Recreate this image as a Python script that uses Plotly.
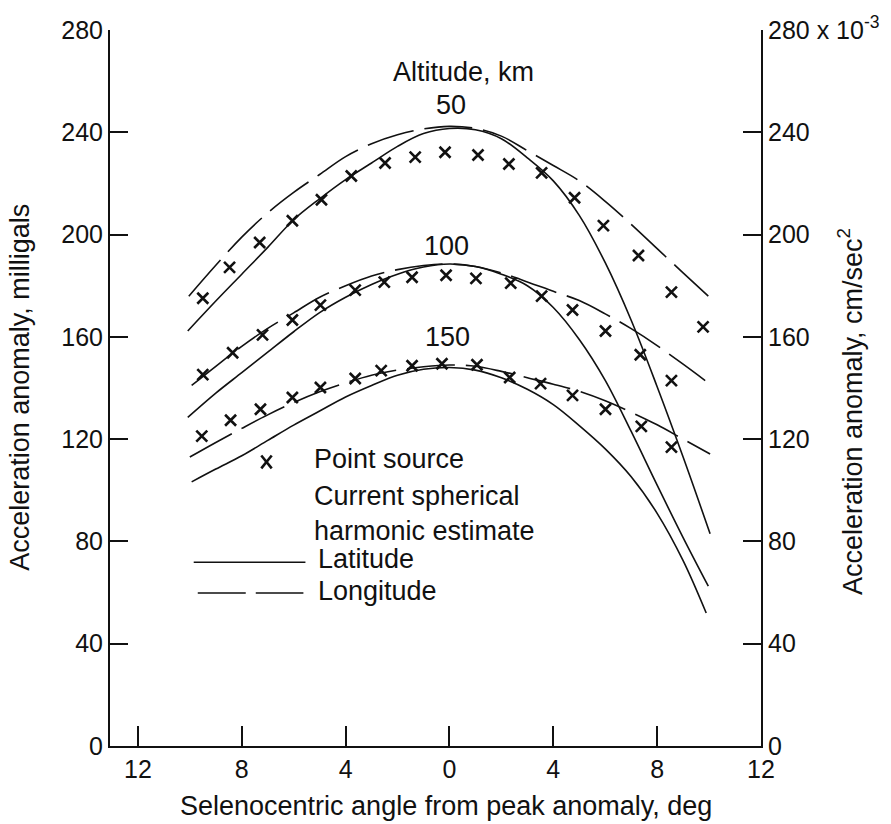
import plotly.graph_objects as go

# ---------------- data ----------------
# Point source, altitude 50 / 100 / 150 km
ps50_x = [-9.50, -8.47, -7.31, -6.05, -4.93, -3.78, -2.48, -1.32, -0.17, 1.10, 2.29, 3.55, 4.82, 5.93, 7.28, 8.55, 9.77]
ps50_y = [175.1, 187.2, 196.9, 205.4, 213.6, 222.9, 228.0, 230.3, 232.2, 231.1, 227.6, 224.1, 214.4, 203.5, 191.8, 177.5, 163.9]
ps100_x = [-9.50, -8.35, -7.20, -6.05, -4.97, -3.63, -2.51, -1.44, -0.13, 1.02, 2.36, 3.55, 4.74, 6.01, 7.35, 8.55]
ps100_y = [145.2, 153.8, 160.8, 166.6, 172.4, 178.3, 181.4, 183.3, 184.1, 182.9, 181.0, 175.9, 170.5, 162.3, 153.0, 142.9]
ps150_x = [-9.54, -8.43, -7.28, -6.05, -4.97, -3.63, -2.63, -1.44, -0.29, 1.06, 2.32, 3.51, 4.74, 6.01, 7.39, 8.55]
ps150_y = [121.2, 127.4, 131.7, 136.3, 140.2, 143.7, 146.8, 148.7, 149.5, 149.1, 144.1, 141.7, 137.1, 131.7, 125.0, 116.9]

# Current spherical harmonic estimate - latitude (solid)
lat50_x = [-10.08, -9, -8, -7, -6, -5, -4, -3, -2, -1, 0, 1, 2, 3, 4, 5, 6, 7, 8, 9, 10.04]
lat50_y = [162.3, 174.0, 184.5, 195.0, 205.8, 214.0, 221.5, 228.0, 234.5, 239.5, 241.5, 241.0, 237.5, 230.0, 221.0, 207.5, 189.0, 166.5, 140.5, 113.0, 83.0]
lat100_x = [-10.08, -9, -8, -7, -6, -5, -4, -3, -2, -1, 0, 1, 2, 3, 4, 5, 6, 7, 8, 9, 9.97]
lat100_y = [128.5, 138.0, 146.0, 154.0, 162.0, 169.5, 175.5, 180.5, 184.5, 187.3, 188.5, 187.5, 184.5, 180.0, 171.5, 159.0, 143.0, 123.0, 102.0, 81.5, 62.5]
lat150_x = [-9.93, -9, -8, -7, -6, -5, -4, -3, -2, -1, 0, 1, 2, 3, 4, 5, 6, 7, 8, 9, 9.89]
lat150_y = [103.3, 108.3, 113.5, 119.5, 125.5, 131.0, 136.5, 141.0, 145.0, 147.3, 148.0, 147.0, 144.0, 139.5, 133.5, 125.3, 116.2, 105.3, 91.0, 72.5, 52.0]

# Current spherical harmonic estimate - longitude (dashed)
lon50_x = [-10.04, -9, -8, -7, -6, -5, -4, -3, -2, -1, 0, 1, 2, 3, 4, 5, 6, 7, 8, 9, 9.97]
lon50_y = [175.9, 188.0, 199.0, 208.5, 216.5, 223.5, 230.5, 235.5, 239.0, 241.3, 242.3, 241.5, 238.5, 232.8, 227.0, 221.0, 213.0, 204.0, 194.5, 185.0, 175.9]
lon100_x = [-9.93, -9, -8, -7, -6, -5, -4, -3, -2, -1, 0, 1, 2, 3, 4, 5, 6, 7, 8, 9, 9.85]
lon100_y = [141.0, 148.5, 156.3, 163.3, 169.4, 175.5, 180.0, 183.8, 186.3, 187.9, 188.5, 187.5, 185.0, 181.5, 177.8, 174.2, 169.0, 163.2, 156.6, 149.3, 142.9]
lon150_x = [-10.0, -9, -8, -7, -6, -5, -4, -3, -2, -1, 0, 1, 2, 3, 4, 5, 6, 7, 8, 9, 10.04]
lon150_y = [113.0, 118.7, 124.2, 129.5, 134.3, 138.5, 142.0, 145.0, 147.0, 148.3, 149.0, 148.5, 146.5, 144.0, 141.5, 138.7, 135.0, 130.5, 125.6, 120.0, 114.2]

x_tickvals = [-12, -8, -4, 0, 4, 8, 12]
x_ticktext = ["12", "8", "4", "0", "4", "8", "12"]
y_tickvals = [0, 40, 80, 120, 160, 200, 240, 280]
y_ticktext = ["0", "40", "80", "120", "160", "200", "240", "280"]
y2_ticktext = ["0", "40", "80", "120", "160", "200", "240", "280 x 10<sup>-3</sup>"]
altitude_labels = ["50", "100", "150"]
altitude_label_x = [0.06, -0.13, -0.06]
altitude_label_y = [250.5, 195.7, 160.0]

# ---------------- figure ----------------
TXT = "Liberation Sans, Arial, sans-serif"
NUM = "Liberation Sans Narrow, Liberation Sans, sans-serif"
BLACK = "#111111"
TS = 27
NS = 25

fig = go.Figure()

for xs, ys in [(lat50_x, lat50_y), (lat100_x, lat100_y), (lat150_x, lat150_y)]:
    fig.add_trace(go.Scatter(x=xs, y=ys, mode="lines",
                             line=dict(color=BLACK, width=1.6, shape="spline", smoothing=1.0),
                             showlegend=False, hoverinfo="skip"))
for xs, ys in [(lon50_x, lon50_y), (lon100_x, lon100_y), (lon150_x, lon150_y)]:
    fig.add_trace(go.Scatter(x=xs, y=ys, mode="lines",
                             line=dict(color=BLACK, width=1.6, shape="spline", smoothing=1.0,
                                       dash="48px,11px"),
                             showlegend=False, hoverinfo="skip"))
for xs, ys in [(ps50_x, ps50_y), (ps100_x, ps100_y), (ps150_x, ps150_y)]:
    fig.add_trace(go.Scatter(x=xs, y=ys, mode="markers",
                             marker=dict(symbol="x-thin", size=11,
                                         line=dict(color=BLACK, width=2.6)),
                             showlegend=False))

# invisible trace to activate the right axis
fig.add_trace(go.Scatter(x=[0], y=[0], yaxis="y2", mode="markers",
                         marker=dict(opacity=0), showlegend=False, hoverinfo="skip"))

fig.update_layout(
    width=891, height=824,
    margin=dict(l=110, r=128, t=25, b=78),
    paper_bgcolor="white", plot_bgcolor="white",
    showlegend=False,
    font=dict(family=TXT, size=TS, color=BLACK),
    xaxis=dict(range=[-13.075, 12.0], showgrid=False, zeroline=False,
               showline=True, linecolor=BLACK, linewidth=2,
               tickmode="array", tickvals=x_tickvals, ticktext=x_ticktext,
               ticks="inside", ticklen=20, tickwidth=2, tickcolor=BLACK,
               tickfont=dict(family=NUM, size=NS, color=BLACK)),
    yaxis=dict(range=[0, 280], showgrid=False, zeroline=False,
               showline=True, linecolor=BLACK, linewidth=2,
               tickmode="array", tickvals=y_tickvals, ticktext=y_ticktext,
               ticks="inside", ticklen=18, tickwidth=2, tickcolor=BLACK,
               tickfont=dict(family=NUM, size=NS, color=BLACK)),
    yaxis2=dict(range=[0, 280], overlaying="y", side="right", showgrid=False,
                zeroline=False, showline=True, linecolor=BLACK, linewidth=2,
                tickmode="array", tickvals=y_tickvals, ticktext=y2_ticktext,
                ticks="inside", ticklen=18, tickwidth=2, tickcolor=BLACK,
                tickfont=dict(family=NUM, size=NS, color=BLACK)),
)

ann = []
# axis titles
ann.append(dict(text="Selenocentric angle from peak anomaly, deg", xref="paper", yref="paper",
                x=0.516, y=-0.0832, xanchor="center", yanchor="middle", showarrow=False))
ann.append(dict(text="Acceleration anomaly, milligals", xref="paper", yref="paper",
                x=-0.1378, y=0.5007, xanchor="center", yanchor="middle", textangle=-90,
                showarrow=False))
ann.append(dict(text="Acceleration anomaly, cm/sec<sup>2</sup>", xref="paper", yref="paper",
                x=1.1378, y=0.4674, xanchor="center", yanchor="middle", textangle=-90,
                showarrow=False))
# altitude labels
ann.append(dict(text="Altitude, km", x=0.56, y=263.7, xref="x", yref="y",
                xanchor="center", yanchor="middle", showarrow=False))
for t, xx, yy in zip(altitude_labels, altitude_label_x, altitude_label_y):
    ann.append(dict(text=t, x=xx, y=yy, xref="x", yref="y", xanchor="center",
                    yanchor="middle", showarrow=False))
# legend text
ann.append(dict(text="Point source", xref="paper", yref="paper", x=0.3109, y=0.4008,
                xanchor="left", yanchor="middle", showarrow=False))
ann.append(dict(text="Current spherical<br>harmonic estimate", xref="paper", yref="paper",
                x=0.3109, y=0.3252, xanchor="left", yanchor="middle", align="left",
                showarrow=False))
ann.append(dict(text="Latitude", xref="paper", yref="paper", x=0.317, y=0.2608,
                xanchor="left", yanchor="middle", showarrow=False))
ann.append(dict(text="Longitude", xref="paper", yref="paper", x=0.317, y=0.2164,
                xanchor="left", yanchor="middle", showarrow=False))
fig.update_layout(annotations=ann)

# legend samples
mx, my = 0.2404, 0.3967
dx, dy = 0.0080, 0.0090
shapes = [
    dict(type="line", xref="paper", yref="paper", x0=mx - dx, x1=mx + dx, y0=my - dy, y1=my + dy,
         line=dict(color=BLACK, width=2.6)),
    dict(type="line", xref="paper", yref="paper", x0=mx - dx, x1=mx + dx, y0=my + dy, y1=my - dy,
         line=dict(color=BLACK, width=2.6)),
    dict(type="line", xref="paper", yref="paper", x0=0.1286, x1=0.3002, y0=0.2566, y1=0.2566,
         line=dict(color=BLACK, width=1.6)),
    dict(type="line", xref="paper", yref="paper", x0=0.1348, x1=0.2971, y0=0.2136, y1=0.2136,
         line=dict(color=BLACK, width=1.6, dash="48px,10px")),
]
fig.update_layout(shapes=shapes)

fig.write_html("out.html", config={"displayModeBar": False},
               post_script="document.body.style.margin='0px';document.body.style.overflow='hidden';")
